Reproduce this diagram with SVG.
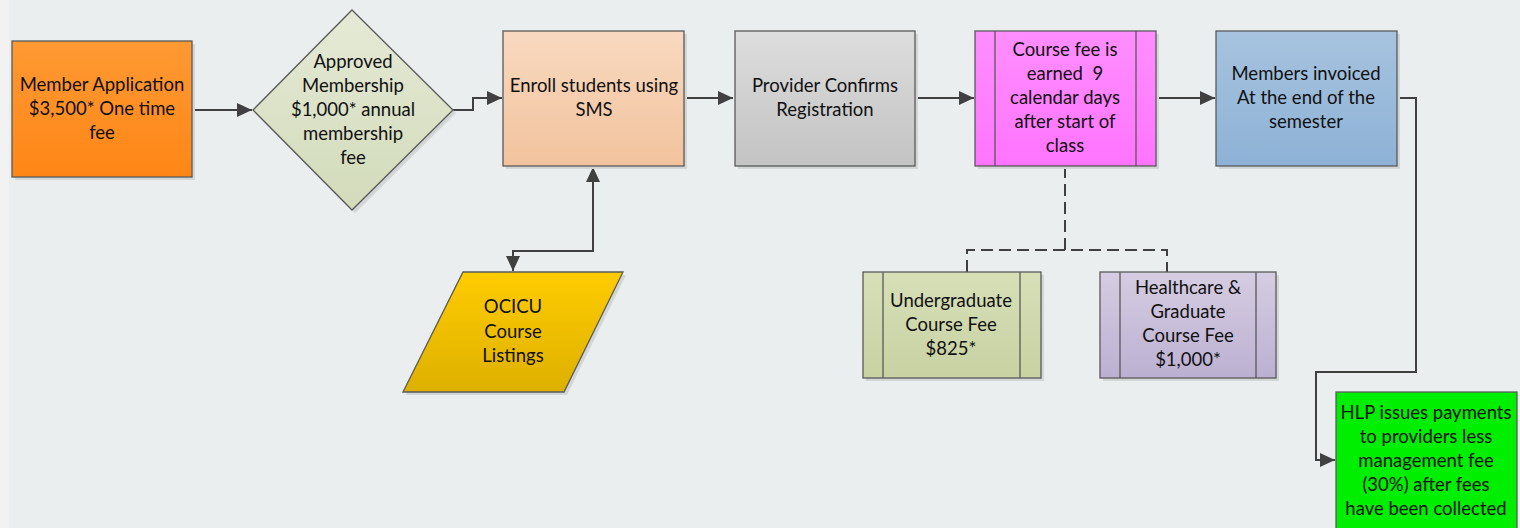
<svg xmlns="http://www.w3.org/2000/svg" width="1520" height="528" viewBox="0 0 1520 528">
<style>
text{font-family:Lato,"Liberation Sans",sans-serif;font-size:18.5px;fill:#111;text-anchor:middle;white-space:pre}
.b{stroke:#595959;stroke-width:1.3}
.sh{fill:#D2D6D6}
.il{stroke:#595959;stroke-width:1.3;fill:none}
.c{fill:none;stroke:#404040;stroke-width:2}
.d{fill:none;stroke:#404040;stroke-width:2;stroke-dasharray:12 6}
</style>
<defs>
<linearGradient id="gOr" x1="0" y1="0" x2="0" y2="1"><stop offset="0" stop-color="#FF9933"/><stop offset="1" stop-color="#FF8616"/></linearGradient>
<linearGradient id="gDi" x1="0" y1="0" x2="0" y2="1"><stop offset="0" stop-color="#E5EAD6"/><stop offset="1" stop-color="#D2DBBA"/></linearGradient>
<linearGradient id="gEn" x1="0" y1="0" x2="0" y2="1"><stop offset="0" stop-color="#F8D9C0"/><stop offset="1" stop-color="#F2C39D"/></linearGradient>
<linearGradient id="gGr" x1="0" y1="0" x2="0" y2="1"><stop offset="0" stop-color="#DDDDDD"/><stop offset="1" stop-color="#C3C3C3"/></linearGradient>
<linearGradient id="gMa" x1="0" y1="0" x2="0" y2="1"><stop offset="0" stop-color="#FF8EFF"/><stop offset="1" stop-color="#FF74FF"/></linearGradient>
<linearGradient id="gBl" x1="0" y1="0" x2="0" y2="1"><stop offset="0" stop-color="#A7C3DF"/><stop offset="1" stop-color="#8DB2D6"/></linearGradient>
<linearGradient id="gYe" x1="0" y1="0" x2="0" y2="1"><stop offset="0" stop-color="#FFCC00"/><stop offset="1" stop-color="#DDB000"/></linearGradient>
<linearGradient id="gUg" x1="0" y1="0" x2="0" y2="1"><stop offset="0" stop-color="#D7DFB8"/><stop offset="1" stop-color="#C8D2A2"/></linearGradient>
<linearGradient id="gHc" x1="0" y1="0" x2="0" y2="1"><stop offset="0" stop-color="#D5CDE2"/><stop offset="1" stop-color="#BCB0D2"/></linearGradient>
<marker id="ah" markerUnits="userSpaceOnUse" markerWidth="16" markerHeight="16" viewBox="0 0 16 14" refX="15" refY="7" orient="auto-start-reverse"><path d="M0,0 L15,7 L0,14 z" fill="#404040"/></marker>
</defs>
<rect x="0" y="0" width="1520" height="528" fill="#EAEEEE"/>
<rect x="0" y="0" width="9" height="528" fill="#F2F2F2"/>

<g id="connectors">
<path class="c" d="M192,110 H252" marker-end="url(#ah)"/>
<path class="c" d="M453,110 H473 V98 H502" marker-end="url(#ah)"/>
<path class="c" d="M685,98 H733" marker-end="url(#ah)"/>
<path class="c" d="M915,98 H974" marker-end="url(#ah)"/>
<path class="c" d="M1156,98 H1215" marker-end="url(#ah)"/>
<path class="c" d="M1397,98 H1416 V372 H1316 V460 H1335" marker-end="url(#ah)"/>
<path class="c" d="M593,167 V251 H513 V271" marker-start="url(#ah)" marker-end="url(#ah)"/>
<path class="d" d="M1065,166 V250"/>
<path class="d" d="M967,272 V250 H1167 V272"/>
</g>

<g id="member-application">
<rect class="sh" x="15" y="44" width="180" height="136"/>
<rect class="b" x="12" y="41" width="180" height="136" fill="url(#gOr)"/>
<text x="102" y="91">Member Application</text>
<text x="102" y="115">$3,500* One time</text>
<text x="102" y="139">fee</text>
</g>

<g id="approved-membership">
<polygon class="sh" points="355,13 456,113 355,213 256,113"/>
<polygon class="b" points="352,10 453,110 352,210 253,110" fill="url(#gDi)"/>
<text x="353" y="68">Approved</text>
<text x="353" y="92">Membership</text>
<text x="353" y="116">$1,000* annual</text>
<text x="353" y="140">membership</text>
<text x="353" y="164">fee</text>
</g>

<g id="enroll">
<rect class="sh" x="506" y="34" width="181" height="135"/>
<rect class="b" x="503" y="31" width="181" height="135" fill="url(#gEn)"/>
<text x="594" y="92">Enroll students using</text>
<text x="594" y="116">SMS</text>
</g>

<g id="provider">
<rect class="sh" x="738" y="34" width="180" height="135"/>
<rect class="b" x="735" y="31" width="180" height="135" fill="url(#gGr)"/>
<text x="825" y="92">Provider Confirms</text>
<text x="825" y="116">Registration</text>
</g>

<g id="course-fee">
<rect class="sh" x="978" y="34" width="181" height="135"/>
<rect class="b" x="975" y="31" width="181" height="135" fill="url(#gMa)"/>
<path class="il" d="M995,31 V166 M1136,31 V166"/>
<text x="1065" y="56">Course fee is</text>
<text x="1065" y="80">earned  9</text>
<text x="1065" y="104">calendar days</text>
<text x="1065" y="128">after start of</text>
<text x="1065" y="152">class</text>
</g>

<g id="members-invoiced">
<rect class="sh" x="1219" y="34" width="181" height="135"/>
<rect class="b" x="1216" y="31" width="181" height="135" fill="url(#gBl)"/>
<text x="1306" y="80">Members invoiced</text>
<text x="1306" y="104">At the end of the</text>
<text x="1306" y="128">semester</text>
</g>

<g id="ocicu">
<polygon class="sh" points="466,275 626,275 567,395 406,395"/>
<polygon class="b" points="463,272 623,272 564,392 403,392" fill="url(#gYe)"/>
<text x="513" y="313">OCICU</text>
<text x="513" y="338">Course</text>
<text x="513" y="362">Listings</text>
</g>

<g id="undergraduate">
<rect class="sh" x="866" y="275" width="178" height="106"/>
<rect class="b" x="863" y="272" width="178" height="106" fill="url(#gUg)"/>
<path class="il" d="M883,272 V378 M1020,272 V378"/>
<text x="951" y="307">Undergraduate</text>
<text x="951" y="331">Course Fee</text>
<text x="951" y="355">$825*</text>
</g>

<g id="healthcare">
<rect class="sh" x="1103" y="275" width="176" height="106"/>
<rect class="b" x="1100" y="272" width="176" height="106" fill="url(#gHc)"/>
<path class="il" d="M1120,272 V378 M1256,272 V378"/>
<text x="1188" y="294">Healthcare &amp;</text>
<text x="1188" y="318">Graduate</text>
<text x="1188" y="342">Course Fee</text>
<text x="1188" y="366">$1,000*</text>
</g>

<g id="hlp">
<rect class="b" x="1336" y="392" width="181" height="145" fill="#00EE00"/>
<text x="1426" y="419">HLP issues payments</text>
<text x="1426" y="443">to providers less</text>
<text x="1426" y="467">management fee</text>
<text x="1426" y="491">(30%) after fees</text>
<text x="1426" y="515">have been collected</text>
</g>
</svg>
